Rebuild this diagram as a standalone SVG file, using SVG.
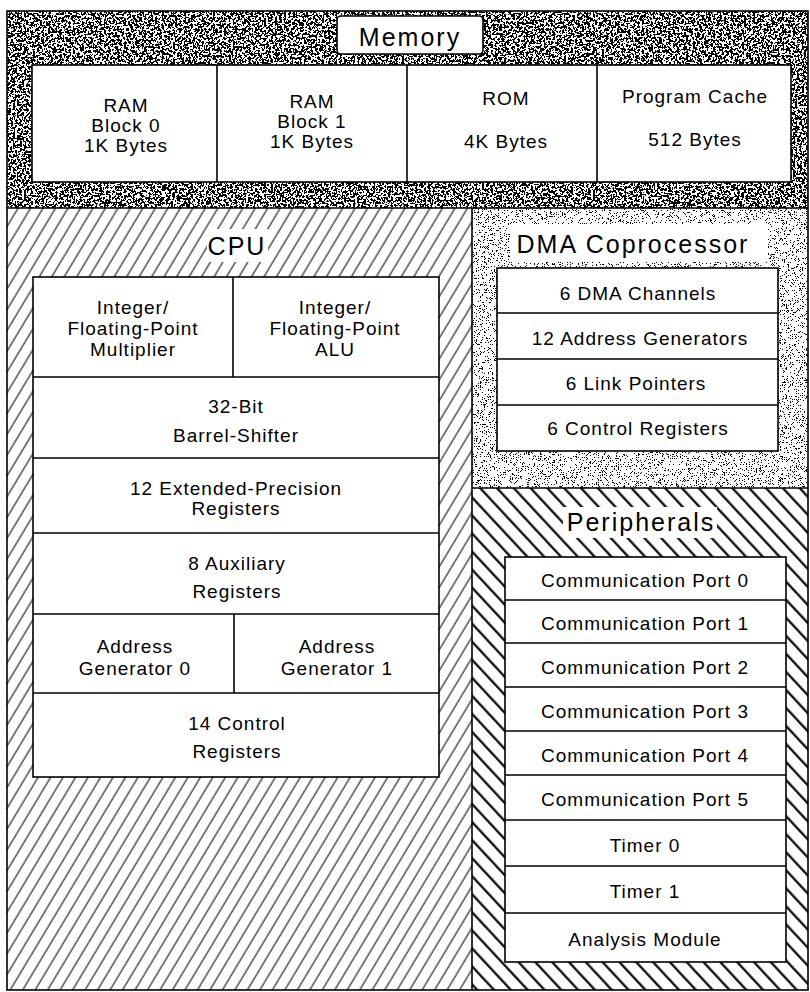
<svg xmlns="http://www.w3.org/2000/svg" width="810" height="992" viewBox="0 0 810 992">
<defs>
<style>
.box{fill:#fff;stroke:#000;stroke-width:1.6}
.ln{stroke:#000;stroke-width:1.6;fill:none}
.t{font-family:"Liberation Sans",Arial,Helvetica,sans-serif;font-size:19px;letter-spacing:1px;text-anchor:middle;fill:#000}
.h{font-size:25px;letter-spacing:2px}
</style>
<filter id="stipDark" x="0" y="0" width="1" height="1" color-interpolation-filters="sRGB">
<feTurbulence type="fractalNoise" baseFrequency="0.45" numOctaves="3" seed="4"/>
<feColorMatrix type="matrix" values="0 0 0 0 0 0 0 0 0 0 0 0 0 0 0 1 0 0 0 0"/>
<feComponentTransfer><feFuncA type="discrete" tableValues="0 0 0 0 0 0 0 0 1 1 1 1 1 1 1 1"/></feComponentTransfer>
</filter>
<filter id="stipLight" x="0" y="0" width="1" height="1" color-interpolation-filters="sRGB">
<feTurbulence type="fractalNoise" baseFrequency="1.5" numOctaves="1" seed="9"/>
<feColorMatrix type="matrix" values="0 0 0 0 0 0 0 0 0 0 0 0 0 0 0 1 0 0 0 0"/>
<feComponentTransfer><feFuncA type="discrete" tableValues="0 0 0 0 0 1 1 1"/></feComponentTransfer>
</filter>
<pattern id="hatchCPU" patternUnits="userSpaceOnUse" width="10.7" height="20" patternTransform="rotate(31)">
<line x1="5" y1="0" x2="5" y2="20" stroke="#111" stroke-width="1.1"/>
</pattern>
<pattern id="hatchPer" patternUnits="userSpaceOnUse" width="12.3" height="20" patternTransform="rotate(-43)">
<line x1="6" y1="0" x2="6" y2="20" stroke="#000" stroke-width="2.2"/>
</pattern>
</defs>
<rect x="0" y="0" width="810" height="992" fill="#fff"/>

<g id="memory">
<rect x="7" y="11" width="801" height="197" fill="#000" filter="url(#stipDark)"/>
<rect x="337" y="16" width="146" height="38" rx="4" class="box"/>
<text x="410" y="46" class="t h">Memory</text>
<rect x="32" y="65" width="759" height="117" class="box"/>
</g>
<g id="ram-block-0">
<text x="126" y="112" class="t">RAM</text>
<text x="126" y="132" class="t">Block 0</text>
<text x="126" y="152" class="t">1K Bytes</text>
</g>
<g id="ram-block-1">
<line x1="217" y1="65" x2="217" y2="182" class="ln"/>
<text x="312" y="108" class="t">RAM</text>
<text x="312" y="128" class="t">Block 1</text>
<text x="312" y="148" class="t">1K Bytes</text>
</g>
<g id="rom">
<line x1="407" y1="65" x2="407" y2="182" class="ln"/>
<text x="506" y="105" class="t">ROM</text>
<text x="506" y="148" class="t">4K Bytes</text>
</g>
<g id="program-cache">
<line x1="597" y1="65" x2="597" y2="182" class="ln"/>
<text x="695" y="103" class="t">Program Cache</text>
<text x="695" y="146" class="t">512 Bytes</text>
</g>

<g id="cpu">
<rect x="7" y="208" width="465" height="782" fill="url(#hatchCPU)"/>
<rect x="207" y="229" width="61" height="33" fill="#fff"/>
<text x="237" y="255" class="t h">CPU</text>
<rect x="33" y="277" width="406" height="500" class="box"/>
</g>
<g id="cpu-multiplier">
<line x1="233" y1="277" x2="233" y2="377" class="ln"/>
<text x="133" y="314" class="t">Integer/</text>
<text x="133" y="335" class="t">Floating-Point</text>
<text x="133" y="356" class="t">Multiplier</text>
</g>
<g id="cpu-alu">
<text x="335" y="314" class="t">Integer/</text>
<text x="335" y="335" class="t">Floating-Point</text>
<text x="335" y="356" class="t">ALU</text>
</g>
<g id="cpu-barrel-shifter">
<line x1="33" y1="377" x2="439" y2="377" class="ln"/>
<text x="236" y="413" class="t">32-Bit</text>
<text x="236" y="442" class="t">Barrel-Shifter</text>
</g>
<g id="cpu-extended-registers">
<line x1="33" y1="458" x2="439" y2="458" class="ln"/>
<text x="236" y="495" class="t">12 Extended-Precision</text>
<text x="236" y="515" class="t">Registers</text>
</g>
<g id="cpu-auxiliary-registers">
<line x1="33" y1="533" x2="439" y2="533" class="ln"/>
<text x="237" y="570" class="t">8 Auxiliary</text>
<text x="237" y="598" class="t">Registers</text>
</g>
<g id="cpu-address-generator-0">
<line x1="33" y1="614" x2="439" y2="614" class="ln"/>
<line x1="234" y1="614" x2="234" y2="693" class="ln"/>
<text x="135" y="653" class="t">Address</text>
<text x="135" y="675" class="t">Generator 0</text>
</g>
<g id="cpu-address-generator-1">
<text x="337" y="653" class="t">Address</text>
<text x="337" y="675" class="t">Generator 1</text>
</g>
<g id="cpu-control-registers">
<line x1="33" y1="693" x2="439" y2="693" class="ln"/>
<text x="237" y="730" class="t">14 Control</text>
<text x="237" y="758" class="t">Registers</text>
</g>

<g id="dma">
<rect x="472" y="208" width="336" height="280" fill="#fff"/>
<rect x="472" y="208" width="336" height="280" fill="#000" filter="url(#stipLight)"/>
<rect x="510" y="224" width="258" height="38" fill="#fff"/>
<text x="633" y="253" class="t h">DMA Coprocessor</text>
<rect x="497" y="268" width="281" height="183" class="box"/>
</g>
<g id="dma-channels">
<text x="638" y="300" class="t">6 DMA Channels</text>
</g>
<g id="dma-address-generators">
<line x1="497" y1="313" x2="778" y2="313" class="ln"/>
<text x="640" y="345" class="t">12 Address Generators</text>
</g>
<g id="dma-link-pointers">
<line x1="497" y1="359" x2="778" y2="359" class="ln"/>
<text x="636" y="390" class="t">6 Link Pointers</text>
</g>
<g id="dma-control-registers">
<line x1="497" y1="405" x2="778" y2="405" class="ln"/>
<text x="638" y="435" class="t">6 Control Registers</text>
</g>

<g id="peripherals">
<rect x="472" y="488" width="336" height="502" fill="url(#hatchPer)"/>
<rect x="563" y="507" width="154" height="31" fill="#fff"/>
<text x="641" y="531" class="t h">Peripherals</text>
<rect x="505" y="557" width="281" height="405" class="box"/>
</g>
<g id="comm-port-0"><text x="645" y="587" class="t">Communication Port 0</text></g>
<g id="comm-port-1"><line x1="505" y1="600" x2="786" y2="600" class="ln"/><text x="645" y="630" class="t">Communication Port 1</text></g>
<g id="comm-port-2"><line x1="505" y1="643" x2="786" y2="643" class="ln"/><text x="645" y="674" class="t">Communication Port 2</text></g>
<g id="comm-port-3"><line x1="505" y1="687" x2="786" y2="687" class="ln"/><text x="645" y="718" class="t">Communication Port 3</text></g>
<g id="comm-port-4"><line x1="505" y1="731" x2="786" y2="731" class="ln"/><text x="645" y="762" class="t">Communication Port 4</text></g>
<g id="comm-port-5"><line x1="505" y1="775" x2="786" y2="775" class="ln"/><text x="645" y="806" class="t">Communication Port 5</text></g>
<g id="timer-0"><line x1="505" y1="820" x2="786" y2="820" class="ln"/><text x="645" y="852" class="t">Timer 0</text></g>
<g id="timer-1"><line x1="505" y1="866" x2="786" y2="866" class="ln"/><text x="645" y="898" class="t">Timer 1</text></g>
<g id="analysis-module"><line x1="505" y1="913" x2="786" y2="913" class="ln"/><text x="645" y="946" class="t">Analysis Module</text></g>

<g id="frame">
<rect x="7" y="11" width="801" height="979" class="ln"/>
<line x1="7" y1="208" x2="808" y2="208" class="ln"/>
<line x1="472" y1="208" x2="472" y2="990" class="ln"/>
<line x1="472" y1="488" x2="808" y2="488" class="ln"/>
</g>
<g id="connectors"/>
</svg>
